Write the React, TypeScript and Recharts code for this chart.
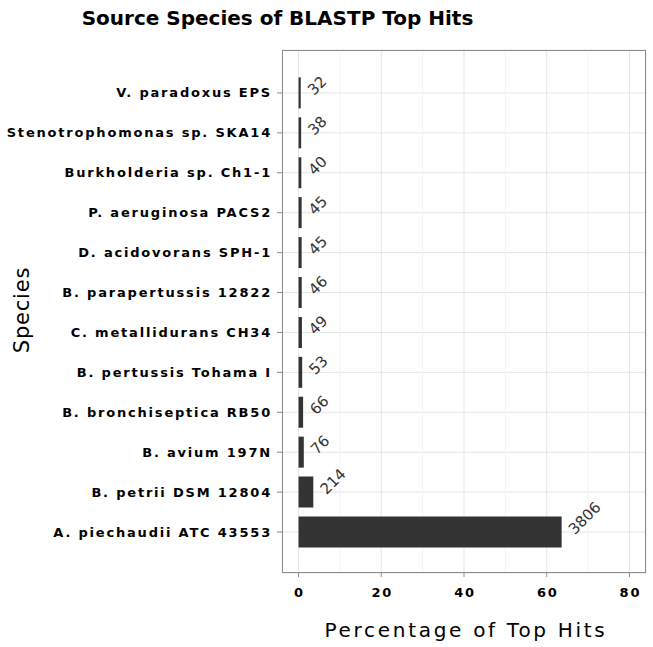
import React from 'react';
import { BarChart, Bar, XAxis, YAxis, CartesianGrid, LabelList } from 'recharts';

// top to bottom, as shown
const species = [
  'V. paradoxus EPS',
  'Stenotrophomonas sp. SKA14',
  'Burkholderia sp. Ch1-1',
  'P. aeruginosa PACS2',
  'D. acidovorans SPH-1',
  'B. parapertussis 12822',
  'C. metallidurans CH34',
  'B. pertussis Tohama I',
  'B. bronchiseptica RB50',
  'B. avium 197N',
  'B. petrii DSM 12804',
  'A. piechaudii ATC 43553',
];

const hitCounts = [32, 38, 40, 45, 45, 46, 49, 53, 66, 76, 214, 3806];

// percentage of top hits
const hitPercent = [0.53, 0.63, 0.67, 0.75, 0.75, 0.77, 0.82, 0.88, 1.1, 1.27, 3.57, 63.6];

const xTicks = [0, 10, 20, 30, 40, 50, 60, 70, 80];

const data = species.map((name, i) => ({ name, pct: hitPercent[i], count: hitCounts[i] }));

const TICK_FONT = { fontFamily: 'DejaVu Sans', fontWeight: 'bold' as const, fontSize: 13, letterSpacing: 1.8 };

const XTick = (props: any) => {
  const { x, y, payload } = props;
  if (payload.value % 20 !== 0) return <g />;
  return (
    <g>
      <line x1={x} x2={x} y1={y - 4} y2={y} stroke="#8c8c8c" />
      <text x={x + 1} y={y + 20} textAnchor="middle" fill="#000" style={TICK_FONT}>
        {payload.value}
      </text>
    </g>
  );
};

const YTick = (props: any) => {
  const { x, y, payload } = props;
  return (
    <g>
      <line x1={x} x2={x + 5} y1={y} y2={y} stroke="#8c8c8c" />
      <text x={x - 5} y={y + 4.5} textAnchor="end" fill="#000" style={TICK_FONT}>
        {payload.value}
      </text>
    </g>
  );
};

const CountLabel = (props: any) => {
  const { x, y, width, height, value } = props;
  const x0 = x + width + 10;
  const y0 = y + height / 2;
  return (
    <text
      x={x0}
      y={y0}
      transform={`rotate(-45 ${x0} ${y0})`}
      textAnchor="start"
      dominantBaseline="middle"
      fill="#333"
      style={{ fontFamily: 'DejaVu Sans', fontSize: 15 }}
    >
      {value}
    </text>
  );
};

const gridLine = (p: any) => (
  <line
    key={p.key}
    x1={p.x1}
    x2={p.x2}
    y1={p.y1}
    y2={p.y2}
    stroke={p.index % 2 ? '#f3f3f3' : '#e5e5e5'}
    strokeWidth={1}
  />
);

export default function App() {
  return (
    <div style={{ position: 'absolute', left: 0, top: 0, width: 653, height: 647, background: '#fff' }}>
      <div
        style={{
          position: 'absolute',
          left: 0,
          top: 6,
          width: 555,
          textAlign: 'center',
          fontFamily: 'DejaVu Sans',
          fontWeight: 'bold',
          fontSize: 20,
          color: '#000',
        }}
      >
        Source Species of BLASTP Top Hits
      </div>
      <BarChart
        width={653}
        height={647}
        data={data}
        layout="vertical"
        margin={{ top: 50, right: 7, bottom: 0, left: 0 }}
        barCategoryGap="11%"
      >
        <CartesianGrid vertical={gridLine} stroke="#e5e5e5" />
        <XAxis
          type="number"
          dataKey="pct"
          domain={[-4, 84]}
          ticks={xTicks}
          allowDataOverflow
          height={74}
          axisLine={false}
          tickLine={false}
          tickSize={4}
          tickMargin={0}
          tick={<XTick />}
          interval={0}
          label={({ viewBox }: any) => (
            <text
              x={viewBox.x + viewBox.width / 2 + 2}
              y={viewBox.y + 64}
              textAnchor="middle"
              fill="#000"
              style={{ fontFamily: 'DejaVu Sans', fontSize: 20, letterSpacing: 2.7 }}
            >
              Percentage of Top Hits
            </text>
          )}
        />
        <YAxis
          type="category"
          dataKey="name"
          width={282}
          padding={{ top: 23, bottom: 21 }}
          axisLine={false}
          tickLine={false}
          tickSize={5}
          tickMargin={0}
          tick={<YTick />}
          interval={0}
          label={() => {
            const cx = 23;
            const cy = 310;
            return (
              <text
                x={cx}
                y={cy}
                transform={`rotate(-90 ${cx} ${cy})`}
                textAnchor="middle"
                dominantBaseline="middle"
                fill="#000"
                style={{ fontFamily: 'DejaVu Sans', fontSize: 21, letterSpacing: 0.8 }}
              >
                Species
              </text>
            );
          }}
        />
        <Bar dataKey="pct" fill="#333333" isAnimationActive={false}>
          <LabelList dataKey="count" content={<CountLabel />} />
        </Bar>
      </BarChart>
      {/* panel border */}
      <div
        style={{
          position: 'absolute',
          left: 282,
          top: 50,
          width: 364,
          height: 523,
          boxSizing: 'border-box',
          border: '1px solid #8c8c8c',
          pointerEvents: 'none',
        }}
      />
    </div>
  );
}
